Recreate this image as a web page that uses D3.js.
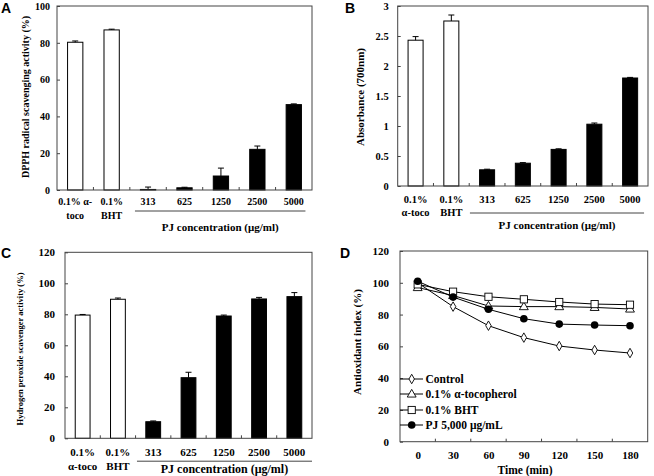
<!DOCTYPE html>
<html><head><meta charset="utf-8">
<script src="https://cdn.jsdelivr.net/npm/d3@7/dist/d3.min.js"></script>
<style>
body{margin:0;background:#fff;}
svg{display:block;}
text{font-family:"Liberation Serif","Times New Roman",serif;font-weight:bold;fill:#000;}
.panel{font-family:"Liberation Sans",Arial,sans-serif;font-weight:bold;}
</style></head>
<body><svg id="c" width="654" height="476"></svg>
<script>
// ---------- data ----------
const categories = ["0.1% α-toco","0.1% BHT","313","625","1250","2500","5000"];
const labelsA = [["0.1% α-","toco"],["0.1%","BHT"],["313"],["625"],["1250"],["2500"],["5000"]];
const labelsBC = [["0.1%","α-toco"],["0.1%","BHT"],["313"],["625"],["1250"],["2500"],["5000"]];
const dpphValues = [80.3, 87.0, 0.3, 1.2, 7.6, 22.1, 46.4];
const dpphErrors = [0.7, 0.4, 1.3, 0.3, 4.3, 1.8, 0.4];
const absValues = [2.43, 2.75, 0.27, 0.38, 0.61, 1.03, 1.80];
const absErrors = [0.06, 0.10, 0.01, 0.01, 0.01, 0.02, 0.01];
const h2o2Values = [79.5, 89.7, 10.7, 39.1, 78.9, 89.9, 91.4];
const h2o2Errors = [0.4, 0.8, 0.5, 3.5, 0.6, 1.0, 2.6];
const ticksA = [0,20,40,60,80,100];
const ticksB = [0,0.5,1,1.5,2,2.5,3];
const ticksC = [0,20,40,60,80,100,120];
const times = [0,30,60,90,120,150,180];
const controlIdx = [100, 85, 73, 65.5, 60.2, 57.7, 55.8];
const tocoIdx = [97, 92, 85.4, 85, 85, 84.5, 83.5];
const bhtIdx = [99, 94.4, 91.2, 89.6, 87.9, 86.6, 86.2];
const pjIdx = [101, 91, 83.3, 77.4, 74, 73.4, 73];
const ticksD = [0,20,40,60,80,100,120];
const legendNames = ["Control","0.1% α-tocopherol","0.1% BHT","PJ 5,000 μg/mL"];
const pjTitle = "PJ concentration (μg/ml)";

const svg = d3.select("#c");

function barPanel(o){
  const g = svg.append("g");
  const x = d3.scaleBand().domain(categories).range([o.x0,o.x1]).paddingInner(0.58).paddingOuter(0.29);
  const y = d3.scaleLinear().domain(o.domain).range([o.y1,o.y0]);
  const step = x.step();
  const ax = g.append("g").attr("transform",`translate(${o.x0},0)`)
    .call(d3.axisLeft(y).tickValues(o.ticks).tickSizeInner(-3).tickSizeOuter(0).tickPadding(o.tickPad).tickFormat(d3.format("~g")));
  ax.select(".domain").remove();
  ax.selectAll("line").attr("stroke","#444");
  ax.selectAll("text").style("font-size",o.fs+"px").attr("fill","#000");
  g.selectAll(".xt").data(categories.slice(0,-1)).join("line")
    .attr("x1",d=>x(d)+x.bandwidth()/2+step/2).attr("x2",d=>x(d)+x.bandwidth()/2+step/2)
    .attr("y1",o.y1).attr("y2",o.y1-3).attr("stroke","#444");
  g.selectAll(".bar").data(categories).join("rect")
    .attr("x",d=>x(d)).attr("width",x.bandwidth())
    .attr("y",(d,i)=>y(o.values[i])).attr("height",(d,i)=>y(0)-y(o.values[i]))
    .attr("fill",(d,i)=>i<2?"#fff":"#000").attr("stroke","#000").attr("stroke-width",1);
  categories.forEach((d,i)=>{
    const cx = x(d)+x.bandwidth()/2;
    const top = y(o.values[i]+o.errors[i]);
    g.append("line").attr("x1",cx).attr("x2",cx).attr("y1",y(o.values[i])).attr("y2",top).attr("stroke","#000");
    g.append("line").attr("x1",cx-3).attr("x2",cx+3).attr("y1",top).attr("y2",top).attr("stroke","#000");
  });
  g.append("rect").attr("x",o.x0).attr("y",o.y0).attr("width",o.x1-o.x0).attr("height",o.y1-o.y0)
    .attr("fill","none").attr("stroke","#444").attr("stroke-width",1);
  categories.forEach((d,i)=>{
    const cx = x(d)+x.bandwidth()/2;
    o.labels[i].forEach((t,j)=>{
      g.append("text").attr("x",cx).attr("y",o.lb1+j*o.lineH).attr("text-anchor","middle")
        .style("font-size",o.fs+"px").text(t);
    });
  });
  const ls = x(categories[2])+x.bandwidth()/2 - o.lineL*step;
  const le = x(categories[6])+x.bandwidth()/2 + o.lineR*step;
  g.append("line").attr("x1",ls).attr("x2",le).attr("y1",o.lineY).attr("y2",o.lineY).attr("stroke","#444");
  g.append("text").attr("x",(ls+le)/2).attr("y",o.titleY).attr("text-anchor","middle").style("font-size",o.tfs+"px").text(pjTitle);
  g.append("text").attr("transform",`translate(${o.ylx},${o.yly}) rotate(-90)`).attr("text-anchor","middle")
    .attr("dominant-baseline","central").style("font-size",o.yfs+"px").text(o.ytitle);
  g.append("text").attr("class","panel").attr("x",o.px).attr("y",o.py).style("font-size","14px").text(o.letter);
}

barPanel({x0:57,x1:312,y0:6,y1:190,domain:[0,100],ticks:ticksA,values:dpphValues,errors:dpphErrors,
  tickPad:7,fs:10,labels:labelsA,lb1:205,lineH:14,lineL:0.36,lineR:0.32,lineY:211,titleY:231,tfs:11,
  ylx:25,yly:97,yfs:10,ytitle:"DPPH radical scavenging activity (%)",px:1,py:13,letter:"A"});

barPanel({x0:397.7,x1:648,y0:6,y1:186,domain:[0,3],ticks:ticksB,values:absValues,errors:absErrors,
  tickPad:9,fs:10.5,labels:labelsBC,lb1:203,lineH:13,lineL:0.48,lineR:0.39,lineY:213,titleY:229,tfs:11,
  ylx:360,yly:97,yfs:11,ytitle:"Absorbance (700nm)",px:345,py:13,letter:"B"});

barPanel({x0:65,x1:312,y0:252.3,y1:438.3,domain:[0,120],ticks:ticksC,values:h2o2Values,errors:h2o2Errors,
  tickPad:10,fs:11,labels:labelsBC,lb1:456,lineH:13.5,lineL:0.46,lineR:0.5,lineY:461.2,titleY:473,tfs:12,
  ylx:20,yly:349,yfs:8.5,ytitle:"Hydrogen peroxide scavenger activity (%)",px:1,py:258,letter:"C"});

// ---------- Panel D ----------
(function(){
  const x0=400,x1=647.7,y0=251,y1=441.7;
  const g = svg.append("g");
  const x = d3.scalePoint().domain(times).range([x0,x1]).padding(0.5);
  const y = d3.scaleLinear().domain([0,120]).range([y1,y0]);
  const step = x.step();
  const ax = g.append("g").attr("transform",`translate(${x0},0)`)
    .call(d3.axisLeft(y).tickValues(ticksD).tickSizeInner(-3).tickSizeOuter(0).tickPadding(11));
  ax.select(".domain").remove();
  ax.selectAll("line").attr("stroke","#444");
  ax.selectAll("text").style("font-size","11px").attr("fill","#000");
  const bx = g.append("g").attr("transform",`translate(0,${y1})`)
    .call(d3.axisBottom(x).tickSize(0).tickPadding(10));
  bx.select(".domain").remove();
  bx.selectAll("text").style("font-size","11px").attr("fill","#000");
  g.selectAll(".xt").data(times.slice(0,-1)).join("line")
    .attr("x1",d=>x(d)+step/2).attr("x2",d=>x(d)+step/2).attr("y1",y1).attr("y2",y1-3).attr("stroke","#444");
  g.append("rect").attr("x",x0).attr("y",y0).attr("width",x1-x0).attr("height",y1-y0)
    .attr("fill","none").attr("stroke","#444");
  const series = [
    {name:legendNames[0],vals:controlIdx,sym:"diamond"},
    {name:legendNames[1],vals:tocoIdx,sym:"triangle"},
    {name:legendNames[2],vals:bhtIdx,sym:"square"},
    {name:legendNames[3],vals:pjIdx,sym:"circle"}];
  function marker(sel,sym,cx,cy){
    if(sym==="diamond"){
      sel.append("path").attr("d",d3.symbol(d3.symbolDiamond,26)()).attr("transform",`translate(${cx},${cy})`)
        .attr("fill","#fff").attr("stroke","#000").attr("stroke-width",0.9);
    } else if(sym==="triangle"){
      sel.append("path").attr("d",d3.symbol(d3.symbolTriangle,34)()).attr("transform",`translate(${cx},${cy+0.5})`)
        .attr("fill","#fff").attr("stroke","#000").attr("stroke-width",0.9);
    } else if(sym==="square"){
      sel.append("rect").attr("x",cx-3.6).attr("y",cy-3.6).attr("width",7.2).attr("height",7.2)
        .attr("fill","#fff").attr("stroke","#000").attr("stroke-width",0.9);
    } else {
      sel.append("circle").attr("cx",cx).attr("cy",cy).attr("r",3.8).attr("fill","#000");
    }
  }
  const line = d3.line().x((d,i)=>x(times[i])).y(d=>y(d));
  series.forEach(s=>{
    g.append("path").attr("d",line(s.vals)).attr("fill","none").attr("stroke","#000").attr("stroke-width",1);
    s.vals.forEach((v,i)=>marker(g,s.sym,x(times[i]),y(v)));
  });
  const ly=[379,394,410,425];
  series.forEach((s,i)=>{
    g.append("line").attr("x1",400).attr("x2",423).attr("y1",ly[i]).attr("y2",ly[i]).attr("stroke","#000");
    marker(g,s.sym,411.7,ly[i]);
    g.append("text").attr("x",425.5).attr("y",ly[i]).attr("dominant-baseline","central").style("font-size","11.5px").text(s.name);
  });
  g.append("text").attr("transform",`translate(357,342) rotate(-90)`).attr("text-anchor","middle")
    .attr("dominant-baseline","central").style("font-size","11px").text("Antioxidant index (%)");
  g.append("text").attr("x",525).attr("y",474).attr("text-anchor","middle").style("font-size","11.5px").text("Time (min)");
  g.append("text").attr("class","panel").attr("x",340).attr("y",258).style("font-size","14px").text("D");
})();
</script></body></html>
